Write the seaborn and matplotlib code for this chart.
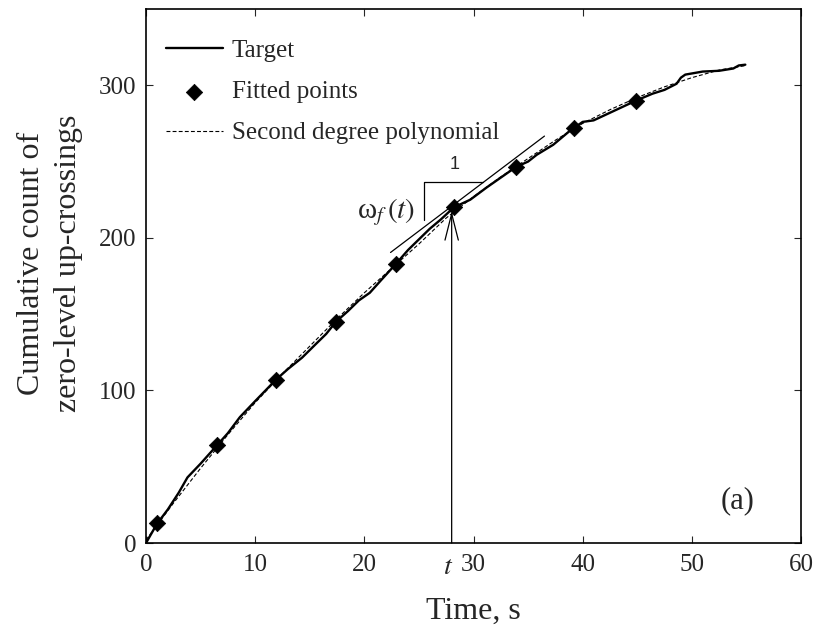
import numpy as np
import pandas as pd
import matplotlib
matplotlib.use("Agg")
import matplotlib.pyplot as plt
import seaborn as sns

# ---- data ----
target_t = [0, 1.0, 2.0, 3.0, 3.8, 5.0, 6.5, 7.5, 8.6, 10.0, 11.9, 13.0, 14.3, 15.5,
            16.5, 17.4, 18.5, 19.5, 20.5, 21.5, 22.9, 24.0, 25.0, 26.0, 27.0, 28.2,
            29.7, 31.2, 32.7, 33.9, 35.0, 35.8, 37.3, 38.8, 39.2, 40.0, 41.0, 42.5,
            43.7, 44.9, 46.4, 47.5, 48.6, 49.0, 49.4, 51.0, 52.5, 53.8, 54.3, 54.9]
target_y = [0, 12.5, 22, 33, 43, 52, 64, 72, 82.5, 93, 107, 114, 121.5, 130,
            137, 145, 152, 159, 164, 172, 183, 192, 199, 206, 212, 220,
            225, 233, 240.5, 246.5, 250, 254.5, 261, 270, 272, 276, 277, 282,
            286, 290, 294.5, 297, 301, 305, 307, 309, 309.5, 311, 313, 313.5]

fit_t = [1.0, 6.5, 11.9, 17.4, 22.9, 28.2, 33.9, 39.2, 44.9]
fit_y = [13, 64, 107, 145, 183, 220, 246.5, 272, 290]

poly_t = [0, 2.5, 5, 7.5, 10, 12.5, 15, 17.5, 20, 22.5, 25, 27.5, 30, 32.5, 35,
          37.5, 40, 42.5, 45, 47.5, 50, 52.5, 55]
poly_y = [2, 26, 49, 71, 92, 111, 129, 147, 164, 180, 196, 213, 227, 240, 252,
          264, 275, 284, 292, 299, 305, 310, 313]

x_ticks = [0, 10, 20, 30, 40, 50, 60]
y_ticks = [0, 100, 200, 300]

# tangent annotation
tan_t0, tan_y0, tan_slope = 28.2, 221.8, 5.41
tan_left, tan_right = 5.8, 8.3
tri_t, tri_ybot, tri_ytop, tri_tend = 25.5, 211.8, 236.6, 30.9
arrow_t, arrow_tip = 28.0, 217.5

sns.set_style("ticks")
plt.rcParams["font.family"] = ["Liberation Serif", "DejaVu Serif"]
plt.rcParams["mathtext.fontset"] = "stix"

fig = plt.figure(figsize=(8.15, 6.31), dpi=100)
ax = fig.add_axes([146 / 815, 1 - 543 / 631, 655 / 815, 534 / 631])

df_t = pd.DataFrame({"t": target_t, "y": target_y})
df_p = pd.DataFrame({"t": poly_t, "y": poly_y})
df_f = pd.DataFrame({"t": fit_t, "y": fit_y})

sns.lineplot(data=df_t, x="t", y="y", ax=ax, color="black", lw=1.7,
             label="Target", zorder=3, sort=False)
sns.scatterplot(data=df_f, x="t", y="y", ax=ax, marker="D", s=70, color="black",
                edgecolor="black", linewidth=0.5, label="Fitted points", zorder=4)
sns.lineplot(data=df_p, x="t", y="y", ax=ax, color="black", lw=0.8,
             dashes=False, label="Second degree polynomial", zorder=2)
ax.lines[-1].set_linestyle((0, (3.5, 2)))

# tangent line and slope triangle
ax.plot([tan_t0 - tan_left, tan_t0 + tan_right],
        [tan_y0 - tan_slope * tan_left, tan_y0 + tan_slope * tan_right],
        color="black", lw=0.9, zorder=2)
ax.plot([tri_t, tri_t, tri_tend], [tri_ybot, tri_ytop, tri_ytop],
        color="black", lw=0.9, zorder=2)
ax.text((tri_t + tri_tend) / 2 + 0.1, tri_ytop + 6, "1", family="Liberation Sans",
        fontsize=13, ha="center", va="bottom")
ax.text(24.7, 217, "ω" + r"$_{f}\,(t)$", fontsize=21, ha="right", va="center")

ax.annotate("", xy=(arrow_t, arrow_tip), xytext=(arrow_t, 0),
            arrowprops=dict(arrowstyle="->,head_length=0.95,head_width=0.24",
                            lw=0.9, color="black", shrinkA=0, shrinkB=0,
                            mutation_scale=20))
ax.text(27.7, -0.022, r"$t$", transform=ax.get_xaxis_transform(),
        fontsize=20, ha="center", va="top")
ax.text(54.2, 27.5, "(a)", fontsize=22, ha="center", va="center")

ax.set_xlim(0, 60)
ax.set_ylim(0, 350)
ax.set_xticks(x_ticks)
ax.set_yticks(y_ticks)
ax.tick_params(direction="in", length=5, width=0.8, labelsize=18,
               top=True, right=True, pad=7)
ax.tick_params(axis="x", pad=8)
for s in ax.spines.values():
    s.set_visible(True)
    s.set_linewidth(1.2)
    s.set_color("black")

ax.set_xlabel("Time, s", fontsize=23, labelpad=15)
ax.set_ylabel("Cumulative count of\nzero-level up-crossings", fontsize=23,
              labelpad=11, linespacing=1.4)
ax.yaxis.label.set_y(0.524)

ax.legend(loc="upper left", bbox_to_anchor=(0.03, 0.943), frameon=False,
          fontsize=18, handlelength=2.3, handletextpad=0.35, labelspacing=0.75,
          borderpad=0, borderaxespad=0)

fig.savefig("out.png", dpi=100)
